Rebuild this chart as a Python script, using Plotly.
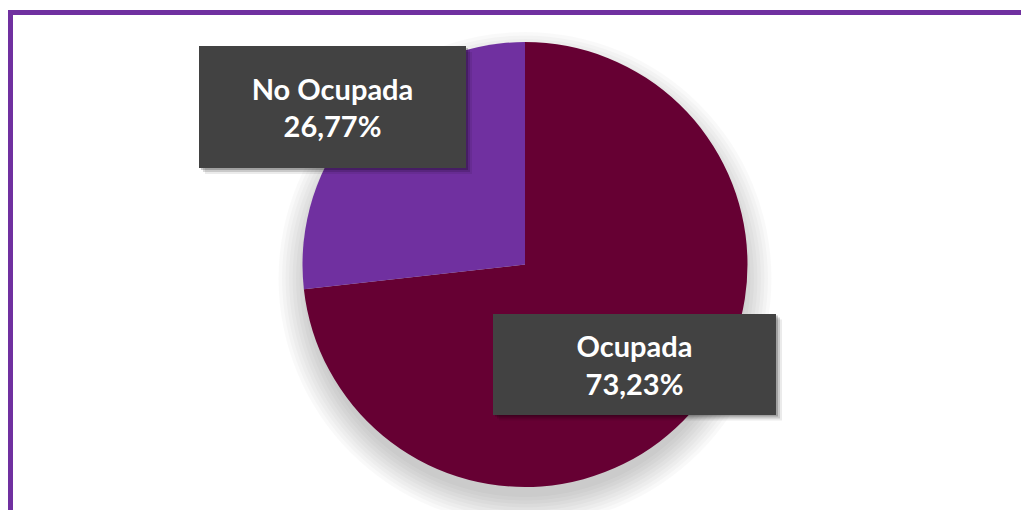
import plotly.graph_objects as go

# data
labels = ["Ocupada", "No Ocupada"]
values = [73.23, 26.77]
colors = ["#660033", "#7030A0"]

W, H = 1029, 510
OFF = 8  # page body margin


def px_x(x):
    return (x - OFF) / W


def px_y(y):
    return (H - (y - OFF)) / H


def fmt(v):
    return f"{v:.2f}".replace(".", ",") + "%"


# pie geometry (screen pixels)
CX, CY, R = 525, 264.5, 222.5

pie = go.Pie(
    labels=labels,
    values=values,
    marker=dict(colors=colors, line=dict(width=0)),
    sort=False,
    direction="clockwise",
    rotation=0,
    textinfo="none",
    hoverinfo="label+percent",
    showlegend=False,
    domain=dict(x=[px_x(CX - R), px_x(CX + R)],
                y=[px_y(CY + R), px_y(CY - R)]),
)

fig = go.Figure(pie)

shapes = []
# soft shadow under the pie
for k in range(9):
    rr = R - 4 + k * 3.5
    shapes.append(dict(
        type="circle", xref="paper", yref="paper", layer="below",
        x0=px_x(CX - rr), x1=px_x(CX + rr),
        y0=px_y(CY + 14 + rr), y1=px_y(CY + 14 - rr),
        line=dict(width=0), fillcolor="rgba(0,0,0,0.022)",
    ))

# label boxes: (center x, center y, width, height) in screen pixels
boxes = {
    "No Ocupada": (332.5, 107, 267, 122),
    "Ocupada": (634.5, 364, 283, 101),
}

annotations = []
for lab, val in zip(labels, values):
    bx, by, bw, bh = boxes[lab]
    # drop shadow
    for off, op in [(6, 0.08), (4, 0.14), (2, 0.2)]:
        shapes.append(dict(
            type="rect", xref="paper", yref="paper", layer="above",
            x0=px_x(bx - bw / 2 + off), x1=px_x(bx + bw / 2 + off),
            y0=px_y(by + bh / 2 + off), y1=px_y(by - bh / 2 + off),
            line=dict(width=0), fillcolor=f"rgba(0,0,0,{op})",
        ))
    annotations.append(dict(
        x=px_x(bx), y=px_y(by), xref="paper", yref="paper",
        xanchor="center", yanchor="middle",
        text=f"<b>{lab}</b><br><b>{fmt(val)}</b>",
        showarrow=False, align="center", valign="middle",
        width=bw, height=bh, borderpad=0, borderwidth=0,
        bgcolor="#424242",
        font=dict(family="Lato, sans-serif", size=29, color="white"),
    ))

# purple frame
shapes.append(dict(
    type="rect", xref="paper", yref="paper", layer="above",
    x0=px_x(10.5), x1=px_x(W + 30), y0=px_y(H + 30), y1=px_y(12.5),
    line=dict(color="#7030A0", width=5), fillcolor="rgba(0,0,0,0)",
))

fig.update_layout(
    width=W, height=H,
    margin=dict(l=0, r=0, t=0, b=0),
    paper_bgcolor="white",
    plot_bgcolor="white",
    shapes=shapes,
    annotations=annotations,
)

fig.write_html("out.html")
